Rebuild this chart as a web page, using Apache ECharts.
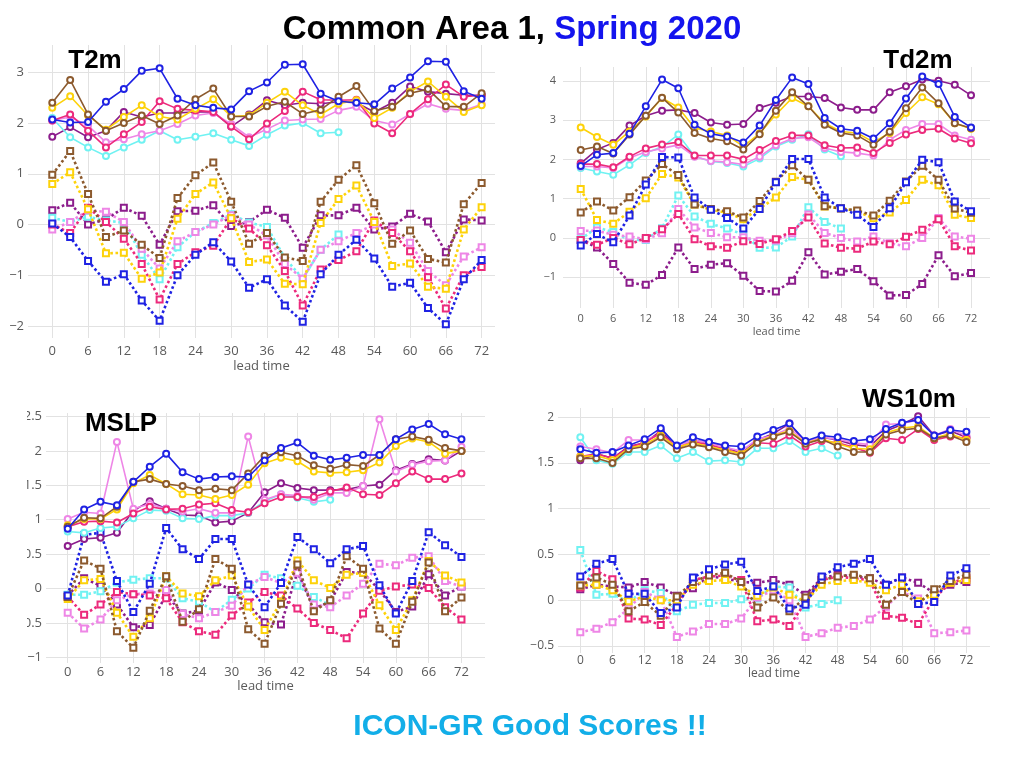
<!DOCTYPE html>
<html>
<head>
<meta charset="utf-8">
<script src="https://cdn.jsdelivr.net/npm/echarts@6/dist/echarts.min.js"></script>
<style>html,body{margin:0;padding:0;background:#fff}#c{width:1024px;height:768px}</style>
</head>
<body>
<div id="c"></div>
<script>
// ---------------- data ----------------
const LEAD = [0,3,6,9,12,15,18,21,24,27,30,33,36,39,42,45,48,51,54,57,60,63,66,69,72];
const X_TICKS = [0,6,12,18,24,30,36,42,48,54,60,66,72];
const T2M_Y_TICKS = [-2,-1,0,1,2,3];
const TD2M_Y_TICKS = [-1,0,1,2,3,4];
const MSLP_Y_TICKS = [-1,-0.5,0,0.5,1,1.5,2,2.5];
const WS10M_Y_TICKS = [-0.5,0,0.5,1,1.5,2];

// T2m
const t2m_s_blue   = [2.07,2.01,2.02,2.42,2.67,3.03,3.08,2.48,2.35,2.30,2.27,2.63,2.80,3.15,3.16,2.58,2.43,2.40,2.37,2.68,2.90,3.22,3.21,2.63,2.48];
const t2m_s_brown  = [2.40,2.85,2.17,1.85,2.00,2.15,1.98,2.15,2.47,2.68,2.13,2.13,2.33,2.42,2.18,2.26,2.52,2.73,2.24,2.32,2.59,2.67,2.33,2.32,2.59];
const t2m_s_gold   = [2.30,2.53,2.15,1.87,2.12,2.35,2.13,2.07,2.28,2.47,2.13,2.15,2.40,2.62,2.35,2.17,2.38,2.45,2.10,2.30,2.62,2.82,2.52,2.22,2.35];
const t2m_s_pink   = [2.05,2.17,1.85,1.52,1.78,2.02,2.43,2.28,2.25,2.22,1.93,1.68,1.99,2.24,2.62,2.46,2.45,2.46,1.99,1.80,2.18,2.47,2.76,2.52,2.55];
const t2m_s_violet = [2.05,2.12,1.95,1.62,1.68,1.78,1.85,1.98,2.15,2.20,1.98,1.72,1.88,2.05,2.07,2.08,2.25,2.32,2.05,1.97,2.18,2.38,2.28,2.25,2.37];
const t2m_s_cyan   = [2.10,1.72,1.52,1.35,1.52,1.67,1.85,1.67,1.73,1.80,1.67,1.55,1.77,1.95,2.00,1.80,1.82];
const t2m_s_purple = [1.73,1.92,1.72,1.85,2.22,2.12,2.20,2.20,2.22,2.22,1.93,2.17,2.45,2.35,2.40,2.38,2.42,2.40,2.22,2.40,2.72,2.62,2.58,2.55,2.55];
const t2m_d_blue   = [0.02,-0.25,-0.72,-1.13,-0.98,-1.50,-1.90,-1.00,-0.60,-0.35,-0.73,-1.25,-1.08,-1.60,-1.92,-0.98,-0.60,-0.30,-0.67,-1.23,-1.15,-1.65,-1.97,-1.08,-0.70];
const t2m_d_brown  = [0.98,1.45,0.60,-0.25,-0.12,-0.40,-0.66,0.52,0.97,1.22,0.45,-0.38,-0.17,-0.65,-0.72,0.45,0.88,1.17,0.42,-0.38,-0.12,-0.68,-0.75,0.40,0.82];
const t2m_d_gold   = [0.80,1.03,0.30,-0.57,-0.56,-1.07,-0.95,0.11,0.60,0.83,0.12,-0.74,-0.69,-1.17,-1.18,0.03,0.50,0.77,0.05,-0.82,-0.77,-1.23,-1.27,-0.10,0.34];
const t2m_d_pink   = [0.00,-0.17,0.33,0.05,-0.28,-0.78,-1.48,-0.78,-0.55,-0.42,0.12,-0.08,-0.41,-0.92,-1.60,-0.89,-0.70,-0.53,0.08,-0.17,-0.53,-1.04,-1.66,-1.00,-0.84];
const t2m_d_violet = [-0.10,0.05,0.28,0.25,0.05,-0.48,-0.87,-0.33,-0.15,0.00,0.18,0.00,-0.22,-0.78,-1.07,-0.50,-0.33,-0.17,0.00,-0.10,-0.36,-0.92,-1.20,-0.63,-0.45];
const t2m_d_cyan   = [0.13,0.05,0.15,0.08,0.03,-0.60,-1.08,-0.45,-0.15,0.03,0.20,0.04,-0.05,-0.66,-1.07,-0.50,-0.20];
const t2m_d_purple = [0.28,0.43,0.00,0.10,0.33,0.17,-0.40,0.26,0.27,0.38,-0.03,0.05,0.29,0.13,-0.46,0.18,0.18,0.33,-0.10,-0.04,0.21,0.06,-0.55,0.10,0.08];

// Td2m
const td2m_s_blue   = [1.83,2.12,2.16,2.65,3.35,4.03,3.81,2.88,2.65,2.58,2.43,2.86,3.51,4.08,3.92,3.05,2.78,2.73,2.53,2.92,3.55,4.11,3.92,3.08,2.81];
const td2m_s_brown  = [2.24,2.33,2.15,2.63,3.11,3.57,3.19,2.67,2.53,2.46,2.25,2.64,3.24,3.71,3.35,2.88,2.67,2.61,2.37,2.70,3.30,3.83,3.43,2.92,2.79];
const td2m_s_gold   = [2.81,2.57,2.37,2.71,3.09,3.56,3.32,2.80,2.71,2.61,2.33,2.66,3.14,3.56,3.35,2.92,2.71,2.67,2.44,2.67,3.18,3.58,3.40,2.92,2.78];
const td2m_s_pink   = [1.88,1.88,1.80,2.07,2.28,2.38,2.44,2.10,2.10,2.10,2.00,2.24,2.47,2.61,2.61,2.36,2.29,2.30,2.16,2.42,2.63,2.75,2.78,2.53,2.41];
const td2m_s_violet = [1.82,1.82,1.78,2.04,2.19,2.28,2.37,2.07,1.96,1.93,1.87,2.07,2.36,2.53,2.56,2.29,2.19,2.16,2.10,2.50,2.75,2.90,2.90,2.61,2.50];
const td2m_s_cyan   = [1.78,1.69,1.61,1.86,2.16,2.32,2.63,2.08,1.95,1.91,1.82,2.02,2.33,2.50,2.64,2.25,2.08];
const td2m_s_purple = [1.90,2.25,2.42,2.86,3.11,3.24,3.26,3.18,2.94,2.88,2.90,3.31,3.44,3.60,3.60,3.56,3.32,3.26,3.26,3.71,3.86,4.03,4.00,3.90,3.63];
const td2m_d_blue   = [-0.19,0.10,-0.11,0.57,1.36,2.06,2.05,1.03,0.72,0.51,0.24,0.74,1.42,2.01,2.01,1.03,0.76,0.59,0.28,0.76,1.42,1.99,1.93,0.93,0.68];
const td2m_d_brown  = [0.65,0.93,0.70,1.04,1.46,1.88,1.60,0.85,0.74,0.68,0.52,0.94,1.43,1.85,1.48,0.81,0.75,0.70,0.57,0.95,1.44,1.84,1.48,0.75,0.64];
const td2m_d_gold   = [1.25,0.46,0.36,0.67,1.01,1.63,1.54,0.85,0.72,0.64,0.48,0.75,1.03,1.55,1.48,0.80,0.76,0.68,0.50,0.65,0.97,1.48,1.34,0.59,0.51];
const td2m_d_pink   = [-0.05,-0.17,0.00,-0.16,0.00,0.22,0.61,-0.03,-0.21,-0.25,-0.08,-0.15,-0.03,0.18,0.52,-0.14,-0.25,-0.27,-0.09,-0.16,0.03,0.21,0.48,-0.21,-0.32];
const td2m_d_violet = [0.18,0.19,0.08,0.04,-0.03,0.12,0.74,0.27,0.13,0.02,0.02,-0.07,-0.06,0.12,0.60,0.13,0.00,-0.09,0.04,-0.13,-0.21,0.00,0.51,0.04,-0.02];
const td2m_d_cyan   = [-0.03,0.27,0.15,-0.05,-0.05,0.25,1.08,0.55,0.36,0.24,0.09,-0.25,-0.24,0.04,0.78,0.41,0.24];
const td2m_d_purple = [-0.05,-0.24,-0.66,-1.14,-1.19,-0.94,-0.24,-0.79,-0.68,-0.64,-0.96,-1.35,-1.36,-1.09,-0.36,-0.93,-0.86,-0.79,-1.10,-1.46,-1.45,-1.17,-0.44,-0.97,-0.89];

// MSLP
const mslp_s_blue   = [0.87,1.15,1.26,1.21,1.55,1.77,1.96,1.69,1.59,1.62,1.63,1.62,1.86,2.04,2.12,1.93,1.87,1.90,1.94,1.94,2.17,2.31,2.39,2.24,2.17];
const mslp_s_brown  = [0.90,1.03,1.02,1.19,1.55,1.59,1.52,1.49,1.43,1.45,1.43,1.67,1.93,1.98,1.93,1.79,1.74,1.80,1.78,1.94,2.17,2.21,2.16,2.04,2.00];
const mslp_s_gold   = [0.92,1.01,1.01,1.15,1.53,1.65,1.52,1.37,1.36,1.30,1.36,1.51,1.82,1.90,1.85,1.70,1.68,1.69,1.72,1.83,2.07,2.18,2.13,1.96,2.00];
const mslp_s_pink   = [0.90,0.97,0.98,0.96,1.09,1.19,1.15,1.16,1.22,1.24,1.14,1.11,1.24,1.33,1.33,1.33,1.41,1.47,1.37,1.36,1.53,1.70,1.59,1.59,1.67];
const mslp_s_violet = [1.01,1.11,1.09,2.13,1.16,1.23,1.16,1.12,1.16,1.10,1.10,2.21,1.29,1.37,1.35,1.29,1.39,1.39,1.49,2.46,1.70,1.80,1.85,1.86,2.06];
const mslp_s_cyan   = [0.83,0.81,0.88,0.90,1.02,1.14,1.13,1.02,1.01,1.06,1.06,1.10,1.27,1.37,1.32,1.26,1.29];
const mslp_s_purple = [0.62,0.72,0.74,0.81,1.13,1.27,1.16,1.07,1.06,0.96,0.98,1.10,1.40,1.53,1.46,1.43,1.43,1.44,1.49,1.51,1.72,1.81,1.88,1.86,2.00];
const mslp_d_blue   = [-0.10,0.78,0.81,0.11,-0.34,0.07,0.88,0.57,0.43,0.72,0.72,0.06,-0.27,0.08,0.75,0.57,0.37,0.57,0.62,0.05,-0.36,0.11,0.82,0.63,0.46];
const mslp_d_brown  = [-0.12,0.41,0.29,-0.62,-0.86,-0.32,0.18,-0.48,-0.30,0.43,0.29,-0.59,-0.80,-0.22,0.35,-0.33,-0.17,0.47,0.29,-0.58,-0.80,-0.19,0.38,-0.33,-0.13];
const mslp_d_gold   = [-0.15,0.12,0.14,-0.35,-0.70,-0.43,0.18,-0.07,-0.11,0.12,0.19,-0.26,-0.60,-0.19,0.41,0.12,0.01,0.20,0.23,-0.24,-0.60,-0.17,0.40,0.19,0.09];
const mslp_d_pink   = [-0.12,-0.38,-0.23,-0.05,-0.08,-0.10,-0.14,-0.49,-0.62,-0.67,-0.39,-0.20,-0.05,-0.10,-0.29,-0.50,-0.60,-0.72,-0.36,-0.03,0.03,0.06,0.01,-0.27,-0.45];
const mslp_d_violet = [-0.35,-0.58,-0.45,-0.17,-0.08,-0.07,-0.02,-0.37,-0.43,-0.34,-0.25,0.06,0.17,0.08,0.23,-0.23,-0.27,-0.10,0.07,0.36,0.34,0.45,0.47,0.11,0.03];
const mslp_d_cyan   = [-0.09,-0.09,-0.04,0.09,0.13,0.15,0.15,-0.14,-0.19,-0.34,-0.16,0.00,0.20,0.15,0.04,-0.12,-0.24];
const mslp_d_purple = [-0.10,0.15,0.04,-0.23,-0.56,-0.53,-0.09,-0.36,-0.32,0.09,-0.02,-0.23,-0.49,-0.52,0.24,-0.29,-0.19,0.24,0.23,-0.02,-0.34,-0.26,0.21,-0.10,0.03];

// WS10m
const ws_s_blue   = [1.65,1.61,1.62,1.69,1.76,1.88,1.69,1.78,1.73,1.69,1.68,1.79,1.86,1.93,1.74,1.80,1.78,1.74,1.76,1.87,1.94,1.97,1.80,1.86,1.84];
const ws_s_brown  = [1.55,1.55,1.50,1.65,1.68,1.78,1.65,1.70,1.67,1.62,1.58,1.72,1.79,1.84,1.71,1.76,1.68,1.62,1.62,1.81,1.86,1.88,1.77,1.80,1.73];
const ws_s_gold   = [1.57,1.58,1.53,1.66,1.70,1.80,1.67,1.72,1.68,1.64,1.60,1.73,1.80,1.85,1.72,1.76,1.71,1.66,1.65,1.83,1.88,1.90,1.77,1.82,1.75];
const ws_s_pink   = [1.57,1.60,1.55,1.67,1.72,1.83,1.66,1.73,1.70,1.65,1.60,1.72,1.71,1.80,1.68,1.74,1.72,1.67,1.61,1.77,1.75,1.87,1.75,1.79,1.77];
const ws_s_violet = [1.68,1.65,1.61,1.75,1.75,1.81,1.68,1.75,1.72,1.67,1.63,1.76,1.80,1.88,1.73,1.78,1.76,1.72,1.70,1.92,1.93,1.97,1.80,1.87,1.80];
const ws_s_cyan   = [1.78,1.53,1.49,1.62,1.62,1.69,1.55,1.62,1.52,1.53,1.51,1.66,1.66,1.74,1.62,1.66,1.58];
const ws_s_purple = [1.53,1.60,1.55,1.68,1.72,1.85,1.68,1.75,1.72,1.68,1.60,1.75,1.82,1.93,1.72,1.78,1.75,1.70,1.68,1.85,1.92,2.01,1.80,1.85,1.78];
const ws_d_blue   = [0.26,0.40,0.45,0.07,0.07,-0.14,-0.08,0.25,0.34,0.39,0.42,0.10,0.15,-0.09,-0.05,0.26,0.36,0.40,0.45,0.17,0.25,-0.04,-0.02,0.27,0.35];
const ws_d_brown  = [0.16,0.25,0.17,-0.12,-0.02,-0.17,0.04,0.20,0.27,0.30,0.20,-0.08,0.03,-0.12,0.03,0.22,0.26,0.28,0.24,-0.05,0.09,-0.04,0.12,0.21,0.28];
const ws_d_gold   = [0.16,0.17,0.11,-0.01,0.04,0.00,0.00,0.17,0.21,0.22,0.15,0.05,0.14,0.06,-0.01,0.17,0.21,0.22,0.19,0.11,0.17,-0.01,0.06,0.19,0.22];
const ws_d_pink   = [0.14,0.32,0.23,-0.20,-0.21,-0.27,-0.05,0.22,0.26,0.27,0.22,-0.23,-0.21,-0.28,-0.02,0.22,0.26,0.24,0.22,-0.17,-0.19,-0.26,0.02,0.19,0.24];
const ws_d_violet = [-0.35,-0.31,-0.24,-0.09,0.09,0.01,-0.40,-0.34,-0.26,-0.26,-0.20,0.03,0.11,0.00,-0.40,-0.36,-0.30,-0.28,-0.21,-0.07,0.09,0.02,-0.36,-0.35,-0.33];
const ws_d_cyan   = [0.55,0.06,0.07,-0.02,0.11,0.08,-0.12,-0.05,-0.03,-0.03,0.01,0.02,0.15,0.14,-0.08,-0.04,0.00];
const ws_d_purple = [0.12,0.17,0.15,0.14,0.20,0.14,0.05,0.13,0.26,0.24,0.20,0.19,0.22,0.17,0.06,0.24,0.28,0.26,0.24,0.17,0.25,0.19,0.08,0.17,0.20];

// ---------------- styles ----------------
const COL = {
  blue: '#1f22e3', brown: '#8c5a2e', gold: '#fdd20a', pink: '#ec2a7c',
  violet: '#ee86e6', cyan: '#70f2f2', purple: '#8c1d8c'
};
const ORDER = ['purple','cyan','violet','pink','gold','brown','blue'];

const PANELS = [
  { solid: {blue:t2m_s_blue, brown:t2m_s_brown, gold:t2m_s_gold, pink:t2m_s_pink, violet:t2m_s_violet, cyan:t2m_s_cyan, purple:t2m_s_purple},
    dotted:{blue:t2m_d_blue, brown:t2m_d_brown, gold:t2m_d_gold, pink:t2m_d_pink, violet:t2m_d_violet, cyan:t2m_d_cyan, purple:t2m_d_purple},
    yTicks: T2M_Y_TICKS, grid:{left:28, top:45, width:467, height:293},
    xMin:-4.07, xMax:74.24, yMin:-2.24, yMax:3.54, fs:13, lm:7, ng:22, ym:4 },
  { solid: {blue:td2m_s_blue, brown:td2m_s_brown, gold:td2m_s_gold, pink:td2m_s_pink, violet:td2m_s_violet, cyan:td2m_s_cyan, purple:td2m_s_purple},
    dotted:{blue:td2m_d_blue, brown:td2m_d_brown, gold:td2m_d_gold, pink:td2m_d_pink, violet:td2m_d_violet, cyan:td2m_d_cyan, purple:td2m_d_purple},
    yTicks: TD2M_Y_TICKS, grid:{left:563, top:67, width:427, height:241},
    xMin:-3.27, xMax:75.5, yMin:-1.78, yMax:4.35, fs:11, lm:5, ng:18, ym:7 },
  { solid: {blue:mslp_s_blue, brown:mslp_s_brown, gold:mslp_s_gold, pink:mslp_s_pink, violet:mslp_s_violet, cyan:mslp_s_cyan, purple:mslp_s_purple},
    dotted:{blue:mslp_d_blue, brown:mslp_d_brown, gold:mslp_d_gold, pink:mslp_d_pink, violet:mslp_d_violet, cyan:mslp_d_cyan, purple:mslp_d_purple},
    yTicks: MSLP_Y_TICKS, grid:{left:46, top:413, width:439, height:250},
    xMin:-3.97, xMax:76.3, yMin:-1.08, yMax:2.55, fs:13, lm:3, ng:16, ym:4 },
  { solid: {blue:ws_s_blue, brown:ws_s_brown, gold:ws_s_gold, pink:ws_s_pink, violet:ws_s_violet, cyan:ws_s_cyan, purple:ws_s_purple},
    dotted:{blue:ws_d_blue, brown:ws_d_brown, gold:ws_d_gold, pink:ws_d_pink, violet:ws_d_violet, cyan:ws_d_cyan, purple:ws_d_purple},
    yTicks: WS10M_Y_TICKS, grid:{left:558, top:408, width:432, height:245},
    xMin:-4.16, xMax:76.4, yMin:-0.576, yMax:2.10, fs:12, lm:2, ng:15, ym:4 }
];

function pts(vals){ return vals.map((v,i)=>[LEAD[i], v]); }
function fmt(v){ return v < 0 ? '\u2212' + String(Math.abs(v)) : String(v); }

const grids = [], xAxes = [], yAxes = [], series = [];
PANELS.forEach((p, gi) => {
  grids.push(Object.assign({containLabel:false}, p.grid));
  const lab = {fontSize:p.fs, color:'#5a5a5a', fontFamily:'Open Sans'};
  xAxes.push({
    type:'value', gridIndex:gi, min:p.xMin, max:p.xMax,
    axisLine:{show:false}, axisTick:{show:false, customValues:X_TICKS},
    axisLabel:Object.assign({customValues:X_TICKS, margin:p.lm, formatter:fmt}, lab),
    splitLine:{show:true, lineStyle:{color:'#e2e2e2', width:1}},
    name:'lead time', nameLocation:'middle', nameGap:p.ng,
    nameTextStyle:{fontSize:p.fs, color:'#5a5a5a', fontFamily:'Open Sans'}
  });
  yAxes.push({
    type:'value', gridIndex:gi, min:p.yMin, max:p.yMax,
    axisLine:{show:false}, axisTick:{show:false, customValues:p.yTicks},
    axisLabel:Object.assign({customValues:p.yTicks, margin:p.ym, formatter:fmt}, lab),
    splitLine:{show:true, lineStyle:{color:'#e2e2e2', width:1}}
  });
  ORDER.forEach((c, k) => {
    series.push({
      type:'line', xAxisIndex:gi, yAxisIndex:gi, data:pts(p.dotted[c]),
      symbol:'emptyRect', symbolSize:6, showAllSymbol:true,
      lineStyle:{color:COL[c], width:2.6, type:'dotted'},
      itemStyle:{color:COL[c], borderWidth:1.5}, z:2+k
    });
  });
  ORDER.forEach((c, k) => {
    series.push({
      type:'line', xAxisIndex:gi, yAxisIndex:gi, data:pts(p.solid[c]),
      symbol:'emptyCircle', symbolSize:6, showAllSymbol:true,
      lineStyle:{color:COL[c], width:1.6},
      itemStyle:{color:COL[c], borderWidth:1.4}, z:10+k
    });
  });
});

const labelFont = {fontFamily:'Liberation Sans, Arial, sans-serif', fontWeight:'bold', fontSize:26, fill:'#000'};
const option = {
  animation:false,
  backgroundColor:'#fff',
  title:{
    text:'{a|Common Area 1, }{b|Spring 2020}', left:'center', top:8,
    textStyle:{rich:{
      a:{fontFamily:'Liberation Sans, Arial, sans-serif', fontWeight:'bold', fontSize:33, color:'#000'},
      b:{fontFamily:'Liberation Sans, Arial, sans-serif', fontWeight:'bold', fontSize:33, color:'#1414ee'}
    }}
  },
  grid:grids, xAxis:xAxes, yAxis:yAxes, series:series,
  graphic:[
    {type:'rect', left:0, top:405, z:100, shape:{width:27, height:270}, style:{fill:'#fff'}},
    {type:'text', x:95, y:61, z:100, style:Object.assign({text:'T2m', align:'center', verticalAlign:'middle'}, labelFont)},
    {type:'text', x:918, y:61, z:100, style:Object.assign({text:'Td2m', align:'center', verticalAlign:'middle'}, labelFont)},
    {type:'text', x:121, y:424, z:100, style:Object.assign({text:'MSLP', align:'center', verticalAlign:'middle'}, labelFont)},
    {type:'text', x:909, y:400, z:100, style:Object.assign({text:'WS10m', align:'center', verticalAlign:'middle'}, labelFont)},
    {type:'text', x:530, y:727, z:100, style:{text:'ICON-GR Good Scores !!', align:'center', verticalAlign:'middle',
      fontFamily:'Liberation Sans, Arial, sans-serif', fontWeight:'bold', fontSize:30, fill:'#12aee8'}}
  ]
};
const chart = echarts.init(document.getElementById('c'), null, {renderer:'canvas'});
chart.setOption(option);
</script>
</body>
</html>
